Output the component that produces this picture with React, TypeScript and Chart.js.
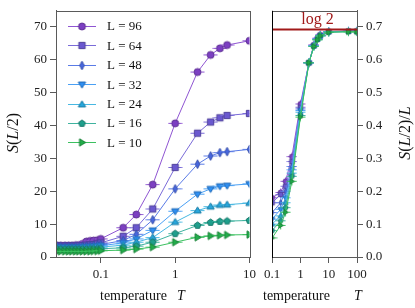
import React, { useEffect, useRef } from 'react';
import { Chart, registerables } from 'chart.js';
Chart.register(...registerables);

const SIZES = [96, 64, 48, 32, 24, 16, 10];
const SERIES_LABELS = SIZES.map((L) => `L = ${L}`);
const MARKERS = ['circle', 'square', 'diamond', 'triDown', 'triUp', 'pentagon', 'triRight'];
const FILLS = ['#7c3fc2', '#6a58cf', '#4868e0', '#2e8ff2', '#27a6dc', '#1f9f8c', '#21ad4a'];
const LINES = ['#8f55d2', '#7a6bd8', '#5a7be6', '#4aa0f4', '#48b8e2', '#3fb39f', '#3cc060'];

const T_LEFT = [0.026, 0.029, 0.033, 0.037, 0.041, 0.046, 0.051, 0.057, 0.064, 0.072, 0.08, 0.09, 0.1, 0.2, 0.3, 0.5, 1, 2, 3, 4, 5, 10];
const S_L96 = [3.5, 3.5, 3.5, 3.5, 3.5, 3.6, 3.6, 4.0, 4.7, 4.9, 5.0, 5.1, 5.5, 8.9, 12.9, 22.0, 40.6, 56.2, 61.4, 63.4, 64.4, 65.7];
const S_L64 = [3.3, 3.3, 3.3, 3.3, 3.3, 3.3, 3.4, 3.5, 3.6, 3.7, 3.8, 4.0, 4.3, 6.3, 8.9, 14.6, 27.2, 37.6, 41.0, 42.3, 43.0, 43.6];
const S_L48 = [3.1, 3.1, 3.1, 3.1, 3.1, 3.1, 3.1, 3.2, 3.3, 3.4, 3.5, 3.6, 3.8, 5.0, 6.9, 11.3, 20.7, 28.2, 30.7, 31.7, 32.0, 32.7];
const S_L32 = [2.9, 2.9, 2.9, 2.9, 2.9, 2.9, 2.9, 3.0, 3.0, 3.1, 3.2, 3.3, 3.4, 4.3, 5.5, 8.1, 13.9, 19.1, 20.7, 21.5, 21.7, 22.2];
const S_L24 = [2.6, 2.6, 2.6, 2.6, 2.6, 2.6, 2.6, 2.7, 2.7, 2.8, 2.8, 2.9, 3.0, 3.6, 4.5, 5.9, 10.6, 14.1, 15.3, 15.8, 15.9, 16.4];
const S_L16 = [2.3, 2.3, 2.3, 2.3, 2.3, 2.3, 2.3, 2.3, 2.3, 2.4, 2.4, 2.4, 2.5, 2.8, 3.3, 4.5, 7.1, 9.6, 10.5, 10.8, 10.9, 11.1];
const S_L10 = [1.7, 1.7, 1.7, 1.7, 1.7, 1.7, 1.7, 1.7, 1.7, 1.7, 1.8, 1.8, 1.9, 2.1, 2.4, 3.0, 4.5, 6.0, 6.4, 6.6, 6.7, 6.8];
const LEFT_SERIES = [S_L96, S_L64, S_L48, S_L32, S_L24, S_L16, S_L10];

const T_RIGHT = [0.1, 0.2, 0.3, 0.5, 1, 2, 3, 4, 5, 10, 50, 100];
const R_L96 = [0.18, 0.196, 0.23, 0.305, 0.465, 0.59, 0.645, 0.665, 0.675, 0.685, 0.686, 0.686];
const R_L64 = [0.165, 0.19, 0.215, 0.29, 0.455, 0.59, 0.643, 0.663, 0.674, 0.685, 0.686, 0.686];
const R_L48 = [0.135, 0.165, 0.2, 0.275, 0.45, 0.59, 0.642, 0.662, 0.673, 0.684, 0.686, 0.686];
const R_L32 = [0.115, 0.145, 0.18, 0.265, 0.445, 0.59, 0.642, 0.662, 0.673, 0.684, 0.686, 0.686];
const R_L24 = [0.1, 0.125, 0.165, 0.255, 0.44, 0.59, 0.641, 0.661, 0.672, 0.684, 0.685, 0.685];
const R_L16 = [0.08, 0.11, 0.15, 0.245, 0.43, 0.59, 0.64, 0.66, 0.672, 0.683, 0.685, 0.685];
const R_L10 = [0.058, 0.096, 0.136, 0.23, 0.425, 0.59, 0.64, 0.66, 0.672, 0.683, 0.684, 0.684];
const RIGHT_SERIES = [R_L96, R_L64, R_L48, R_L32, R_L24, R_L16, R_L10];

const LEFT_X_TICKS = [0.1, 1, 10];
const RIGHT_X_TICKS = [0.1, 1, 10, 100];
const LEFT_Y_TICKS = [0, 10, 20, 30, 40, 50, 60, 70];
const RIGHT_Y_TICKS = [0, 0.1, 0.2, 0.3, 0.4, 0.5, 0.6, 0.7];
const LOG2 = Math.log(2);
const LOG2_LABEL = 'log 2';

const FONT = "'Liberation Serif', 'Times New Roman', serif";
const AXIS_GRAY = '#5a5a5a';

function darker(hex: string, f: number) {
  const n = parseInt(hex.slice(1), 16);
  const r = Math.round(((n >> 16) & 255) * f);
  const g = Math.round(((n >> 8) & 255) * f);
  const b = Math.round((n & 255) * f);
  return `rgb(${r},${g},${b})`;
}

function makeMarker(shape: string, fill: string, line: string, size: number, barH: number, barV: number) {
  const W = Math.max(Math.ceil(size) + 3, barH * 2 + 1) | 1;
  const H = Math.max(Math.ceil(size * 1.3) + 3, barV * 2 + 1) | 1;
  const c = document.createElement('canvas');
  c.width = W;
  c.height = H;
  const ctx = c.getContext('2d')!;
  const cx = W / 2;
  const cy = H / 2;
  ctx.strokeStyle = line;
  ctx.lineWidth = 1;
  if (barH > 0) {
    ctx.beginPath();
    ctx.moveTo(cx - barH, cy);
    ctx.lineTo(cx + barH, cy);
    ctx.stroke();
  }
  if (barV > 0) {
    ctx.beginPath();
    ctx.moveTo(cx, cy - barV);
    ctx.lineTo(cx, cy + barV);
    ctx.stroke();
  }
  const r = size / 2;
  ctx.beginPath();
  if (shape === 'circle') {
    ctx.arc(cx, cy, r, 0, Math.PI * 2);
  } else if (shape === 'square') {
    const s = r * 0.9;
    ctx.rect(cx - s, cy - s, 2 * s, 2 * s);
  } else if (shape === 'diamond') {
    ctx.moveTo(cx, cy - r * 1.25);
    ctx.lineTo(cx + r * 0.65, cy);
    ctx.lineTo(cx, cy + r * 1.25);
    ctx.lineTo(cx - r * 0.65, cy);
    ctx.closePath();
  } else if (shape === 'triDown') {
    ctx.moveTo(cx - r * 1.05, cy - r * 0.7);
    ctx.lineTo(cx + r * 1.05, cy - r * 0.7);
    ctx.lineTo(cx, cy + r * 1.05);
    ctx.closePath();
  } else if (shape === 'triUp') {
    ctx.moveTo(cx - r * 1.05, cy + r * 0.7);
    ctx.lineTo(cx + r * 1.05, cy + r * 0.7);
    ctx.lineTo(cx, cy - r * 1.05);
    ctx.closePath();
  } else if (shape === 'triRight') {
    ctx.moveTo(cx - r * 0.7, cy - r * 1.05);
    ctx.lineTo(cx - r * 0.7, cy + r * 1.05);
    ctx.lineTo(cx + r * 1.05, cy);
    ctx.closePath();
  } else if (shape === 'pentagon') {
    for (let k = 0; k < 5; k++) {
      const a = -Math.PI / 2 + (k * 2 * Math.PI) / 5;
      const px = cx + r * Math.cos(a);
      const py = cy + r * Math.sin(a);
      if (k === 0) ctx.moveTo(px, py);
      else ctx.lineTo(px, py);
    }
    ctx.closePath();
  }
  ctx.fillStyle = fill;
  ctx.fill();
  ctx.strokeStyle = darker(fill, 0.75);
  ctx.stroke();
  return c;
}

type Seg = [string, boolean];
function drawMixed(ctx: CanvasRenderingContext2D, segs: Seg[], x: number, y: number, size: number, rotate: boolean) {
  ctx.save();
  ctx.translate(x, y);
  if (rotate) ctx.rotate(-Math.PI / 2);
  const fonts = segs.map(([, it]) => `${it ? 'italic ' : ''}${size}px ${FONT}`);
  let total = 0;
  const ws = segs.map(([t], i) => {
    ctx.font = fonts[i];
    const w = ctx.measureText(t).width;
    total += w;
    return w;
  });
  let cx = -total / 2;
  ctx.textBaseline = 'middle';
  ctx.textAlign = 'left';
  ctx.fillStyle = '#111';
  segs.forEach(([t], i) => {
    ctx.font = fonts[i];
    ctx.fillText(t, cx, 0);
    cx += ws[i];
  });
  ctx.restore();
}

function drawXTitle(ctx: CanvasRenderingContext2D, x0: number, xT: number, y: number) {
  ctx.save();
  ctx.textBaseline = 'middle';
  ctx.textAlign = 'left';
  ctx.fillStyle = '#111';
  ctx.font = `14px ${FONT}`;
  ctx.fillText('temperature', x0, y);
  ctx.font = `italic 14px ${FONT}`;
  ctx.fillText('T', xT, y);
  ctx.restore();
}

export default function App() {
  const leftRef = useRef<HTMLCanvasElement>(null);
  const rightRef = useRef<HTMLCanvasElement>(null);

  useEffect(() => {
    const leftMarkers = MARKERS.map((m, i) => makeMarker(m, FILLS[i], LINES[i], 7, 7, 0));
    const legendMarkers = MARKERS.map((m, i) => makeMarker(m, FILLS[i], LINES[i], 7, 0, 0));
    const rightMarkers = MARKERS.map((m, i) => makeMarker(m, FILLS[i], LINES[i], 5, 5, 4));

    const tickFont = { family: FONT, size: 13 };

    const leftPlugin = {
      id: 'leftDeco',
      afterDraw(chart: any) {
        const { ctx, chartArea: a } = chart;
        ctx.save();
        ctx.strokeStyle = AXIS_GRAY;
        ctx.lineWidth = 1;
        ctx.strokeRect(Math.round(a.left) + 0.5, Math.round(a.top) + 0.5, Math.round(a.right - a.left), Math.round(a.bottom - a.top));
        // legend
        SERIES_LABELS.forEach((lab, i) => {
          const y = 26 + i * 19.4;
          ctx.strokeStyle = LINES[i];
          ctx.lineWidth = 1;
          ctx.beginPath();
          ctx.moveTo(68, Math.round(y) + 0.5);
          ctx.lineTo(96, Math.round(y) + 0.5);
          ctx.stroke();
          const mk = legendMarkers[i];
          ctx.drawImage(mk, 82 - mk.width / 2, Math.round(y) + 0.5 - mk.height / 2);
          ctx.fillStyle = '#111';
          ctx.font = `13px ${FONT}`;
          ctx.textBaseline = 'middle';
          ctx.textAlign = 'left';
          ctx.fillText(lab, 107, y + 1);
        });
        ctx.restore();
        drawMixed(ctx, [['S', true], ['(', false], ['L', true], ['/2)', false]], 14, 133, 16, true);
        drawXTitle(ctx, 100, 177, 296);
      },
    };

    const rightPlugin = {
      id: 'rightDeco',
      afterDatasetsDraw(chart: any) {
        const { ctx, chartArea: a, scales } = chart;
        const y = Math.round(scales.y.getPixelForValue(LOG2)) + 0.5;
        ctx.save();
        ctx.strokeStyle = '#a11a1a';
        ctx.lineWidth = 2;
        ctx.beginPath();
        ctx.moveTo(a.left, y);
        ctx.lineTo(a.right, y);
        ctx.stroke();
        ctx.fillStyle = '#a11a1a';
        ctx.font = `16px ${FONT}`;
        ctx.textAlign = 'center';
        ctx.textBaseline = 'alphabetic';
        ctx.fillText(LOG2_LABEL, (a.left + a.right) / 2 + 3, y - 6);
        ctx.restore();
      },
      afterDraw(chart: any) {
        const { ctx, chartArea: a } = chart;
        ctx.save();
        ctx.strokeStyle = AXIS_GRAY;
        ctx.lineWidth = 1;
        ctx.strokeRect(Math.round(a.left) + 0.5, Math.round(a.top) + 0.5, Math.round(a.right - a.left), Math.round(a.bottom - a.top));
        ctx.strokeStyle = '#000';
        ctx.beginPath();
        ctx.moveTo(Math.round(a.left) + 0.5, a.top);
        ctx.lineTo(Math.round(a.left) + 0.5, a.bottom + 1);
        ctx.stroke();
        ctx.restore();
        drawMixed(ctx, [['S', true], ['(', false], ['L', true], ['/2)/', false], ['L', true]], 146, 133, 16, true);
        drawXTitle(ctx, 3, 94, 296);
      },
    };

    const left = new Chart(leftRef.current!, {
      type: 'line',
      data: {
        datasets: SIZES.map((L, i) => ({
          label: SERIES_LABELS[i],
          data: T_LEFT.map((t, j) => ({ x: t, y: LEFT_SERIES[i][j] })),
          borderColor: LINES[i],
          backgroundColor: FILLS[i],
          borderWidth: 1,
          pointStyle: leftMarkers[i] as any,
          pointRadius: 3,
          order: SIZES.length - 1 - i,
        })),
      },
      options: {
        animation: false,
        responsive: false,
        events: [],
        layout: { padding: { left: 0, right: 9, top: 9, bottom: 0 } },
        plugins: { legend: { display: false }, tooltip: { enabled: false } },
        scales: {
          x: {
            type: 'logarithmic',
            min: 0.025,
            max: 10,
            afterBuildTicks: (s: any) => {
              s.ticks = LEFT_X_TICKS.map((v) => ({ value: v, major: true }));
            },
            afterFit: (s: any) => {
              s.height = 51;
            },
            ticks: { font: tickFont, color: '#222', padding: 4, maxRotation: 0, autoSkip: false, callback: (v: any) => String(v) },
            grid: { display: true, drawOnChartArea: false, drawTicks: true, tickLength: 6, color: AXIS_GRAY },
            border: { display: true, color: AXIS_GRAY },
          },
          y: {
            type: 'linear',
            min: 0,
            max: 74.8,
            afterBuildTicks: (s: any) => {
              s.ticks = LEFT_Y_TICKS.map((v) => ({ value: v }));
            },
            afterFit: (s: any) => {
              s.width = 56;
            },
            ticks: { font: tickFont, color: '#222', padding: 3, callback: (v: any) => String(v) },
            grid: { display: true, drawOnChartArea: false, drawTicks: true, tickLength: 6, color: AXIS_GRAY },
            border: { display: true, color: AXIS_GRAY },
          },
        },
      } as any,
      plugins: [leftPlugin],
    });

    const right = new Chart(rightRef.current!, {
      type: 'line',
      data: {
        datasets: SIZES.map((L, i) => ({
          label: SERIES_LABELS[i],
          data: T_RIGHT.map((t, j) => ({ x: t, y: RIGHT_SERIES[i][j] })),
          borderColor: LINES[i],
          backgroundColor: FILLS[i],
          borderWidth: 1,
          pointStyle: rightMarkers[i] as any,
          pointRadius: 3,
          order: SIZES.length - 1 - i,
        })),
      },
      options: {
        animation: false,
        responsive: false,
        events: [],
        layout: { padding: { left: 8, right: 0, top: 9, bottom: 0 } },
        plugins: { legend: { display: false }, tooltip: { enabled: false } },
        scales: {
          x: {
            type: 'logarithmic',
            min: 0.1,
            max: 100,
            afterBuildTicks: (s: any) => {
              s.ticks = RIGHT_X_TICKS.map((v) => ({ value: v, major: true }));
            },
            afterFit: (s: any) => {
              s.height = 51;
            },
            ticks: { font: tickFont, color: '#222', padding: 4, maxRotation: 0, autoSkip: false, callback: (v: any) => String(v) },
            grid: { display: true, drawOnChartArea: false, drawTicks: true, tickLength: 6, color: AXIS_GRAY },
            border: { display: true, color: AXIS_GRAY },
          },
          y: {
            type: 'linear',
            position: 'right',
            min: 0,
            max: 0.748,
            afterBuildTicks: (s: any) => {
              s.ticks = RIGHT_Y_TICKS.map((v) => ({ value: v }));
            },
            afterFit: (s: any) => {
              s.width = 58;
            },
            ticks: { font: tickFont, color: '#222', padding: 3, callback: (v: any) => Number(v).toFixed(1) },
            grid: { display: true, drawOnChartArea: false, drawTicks: true, tickLength: 6, color: AXIS_GRAY },
            border: { display: true, color: AXIS_GRAY },
          },
        },
      } as any,
      plugins: [rightPlugin],
    });

    return () => {
      left.destroy();
      right.destroy();
    };
  }, []);

  return (
    <div style={{ position: 'fixed', left: 0, top: 0, width: 415, height: 308, background: '#fff' }}>
      <canvas ref={leftRef} width={260} height={308} style={{ position: 'absolute', left: 0, top: 0, width: 260, height: 308 }} />
      <canvas ref={rightRef} width={155} height={308} style={{ position: 'absolute', left: 260, top: 0, width: 155, height: 308 }} />
    </div>
  );
}
